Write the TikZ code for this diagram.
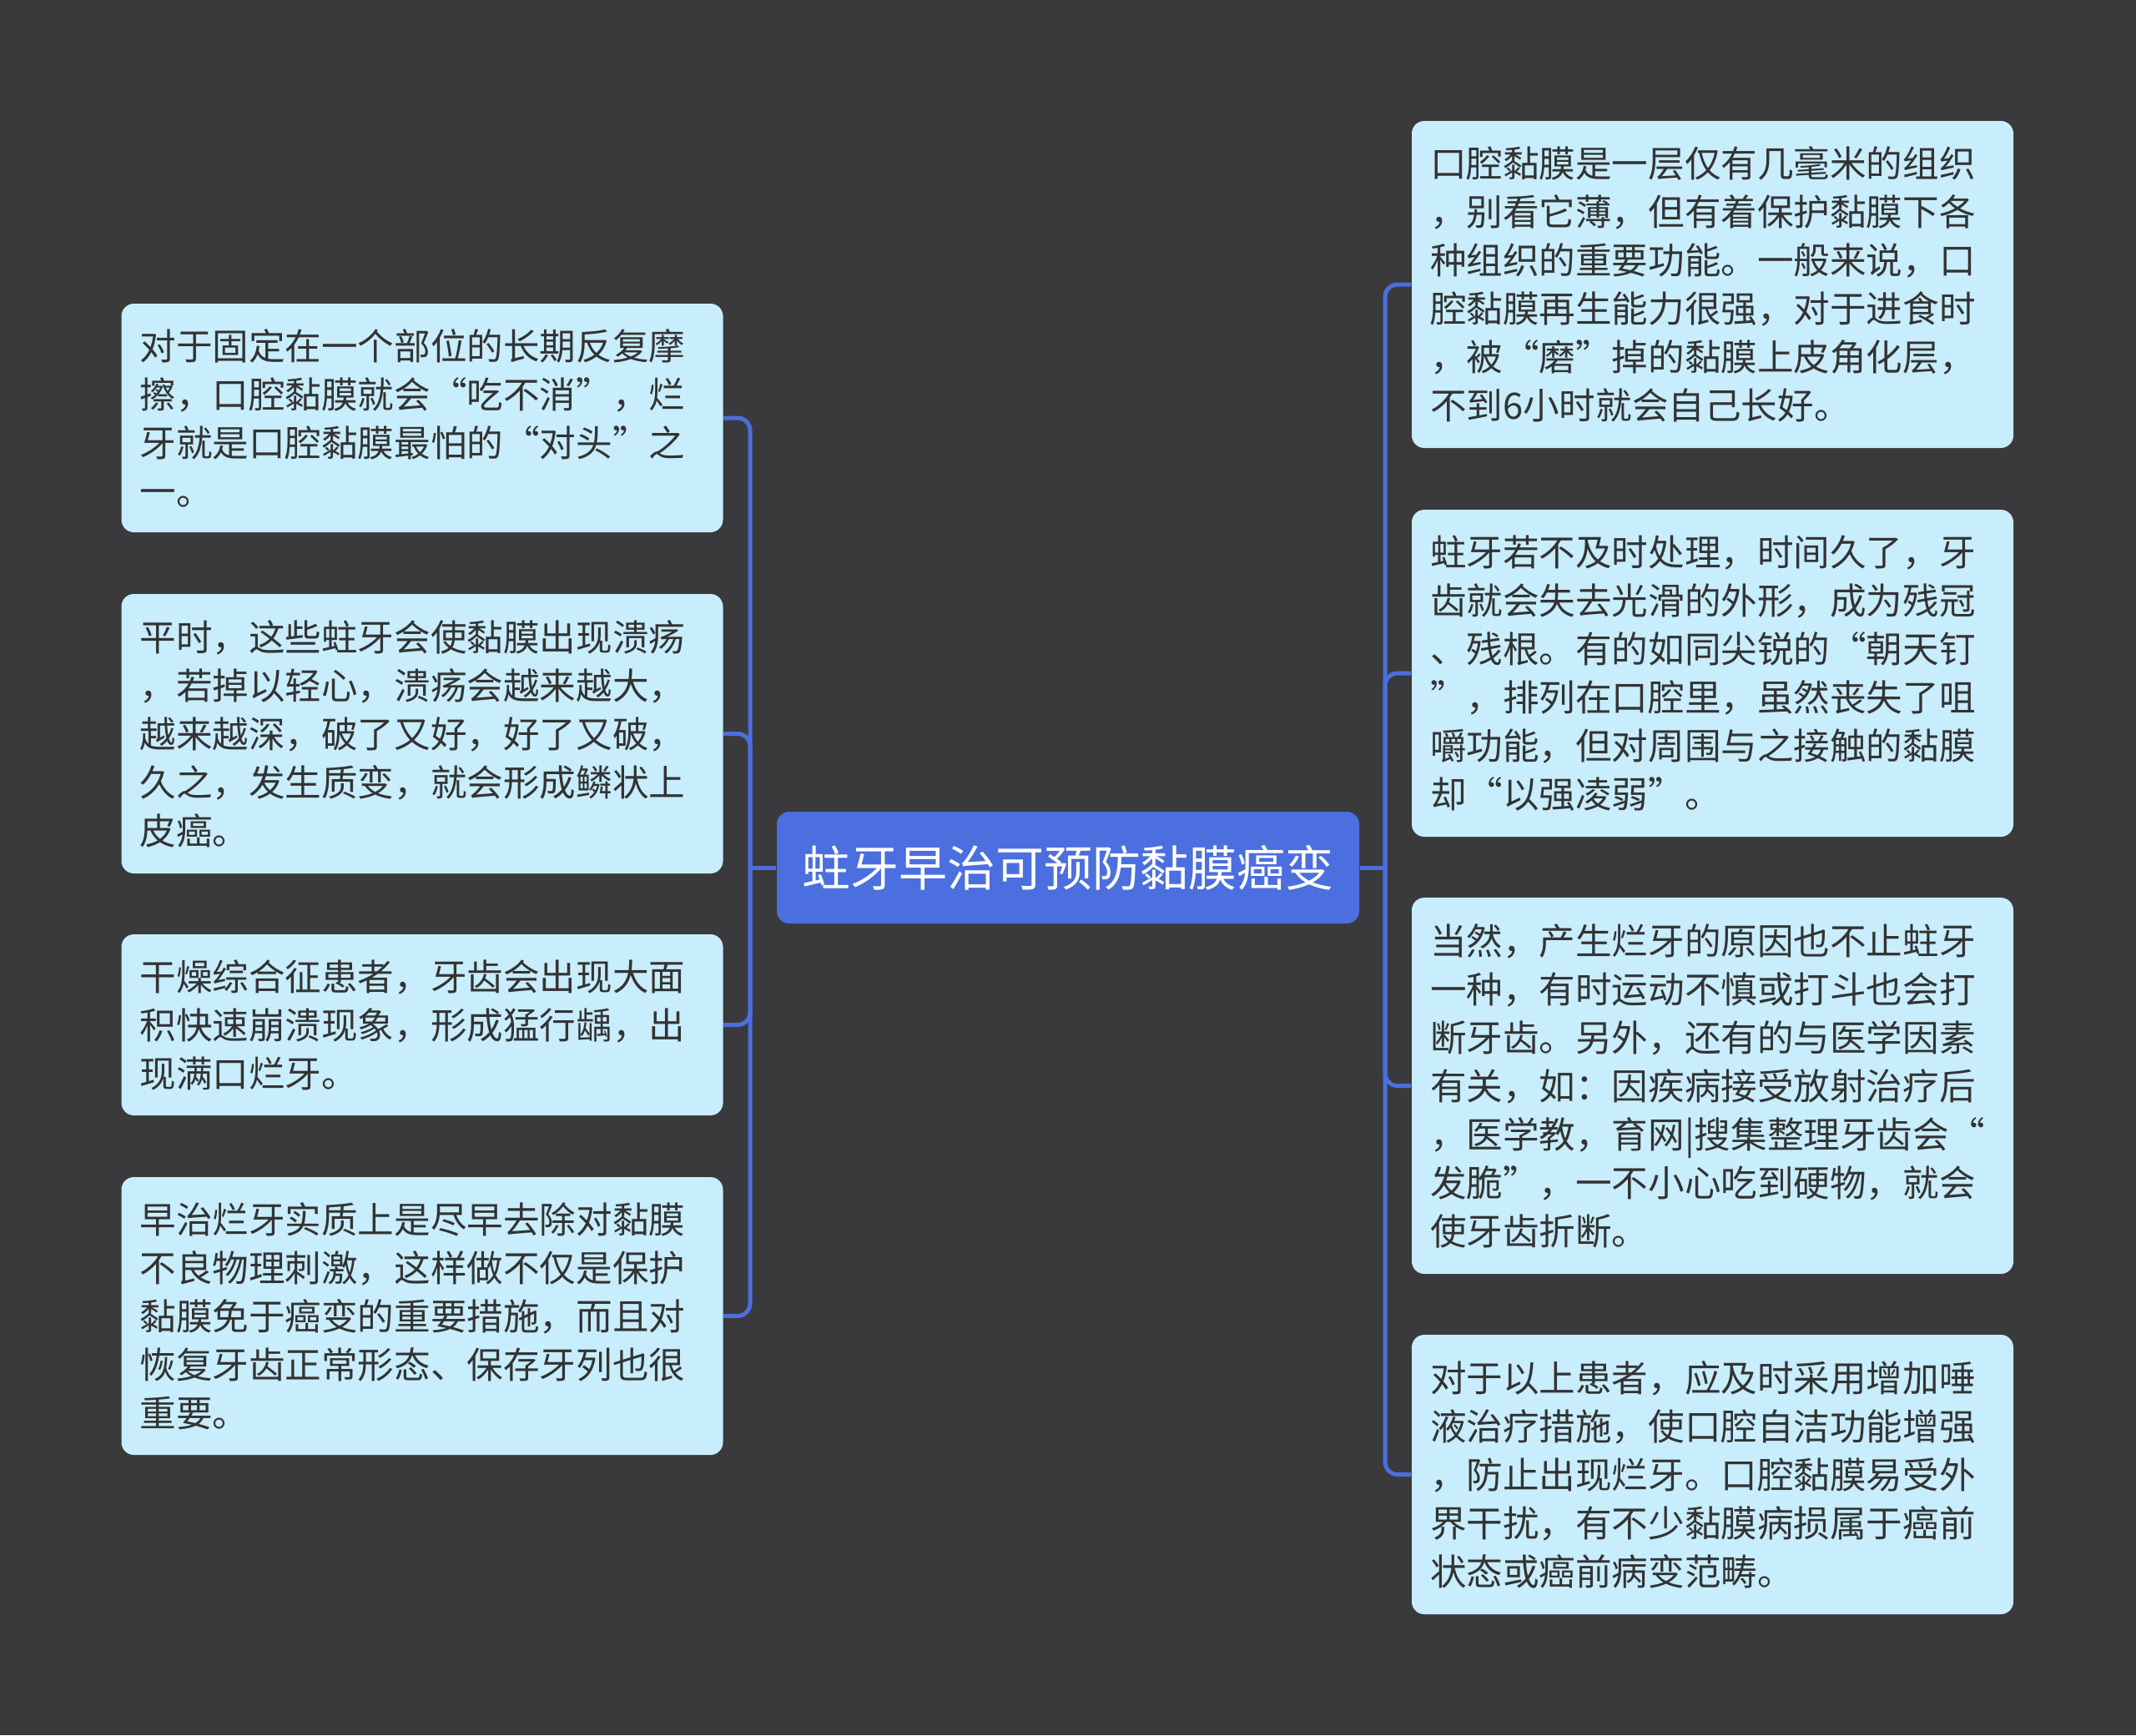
\documentclass[tikz,border=0pt]{standalone}
\usepackage{fontspec}
\setmainfont{Noto Sans CJK SC}
\usepackage{tikz}

\definecolor{bgcol}{RGB}{58,58,60}
\definecolor{boxcol}{RGB}{200,237,252}
\definecolor{maincol}{RGB}{76,111,223}
\definecolor{txtcol}{RGB}{51,51,51}

\begin{document}
\begin{tikzpicture}[
    leaf/.style={fill=boxcol, rounded corners=0.15cm, text=txtcol, align=left,
        text width=6.77cm, inner xsep=0.22cm, inner ysep=0pt,
        font=\fontsize{12.4pt}{16.5pt}\selectfont},
    root/.style={fill=maincol, rounded corners=0.15cm, text=white,
        minimum width=6.98cm, minimum height=1.34cm,
        font=\fontsize{16.5pt}{20pt}\selectfont},
    link/.style={draw=maincol, line width=0.05cm}]
            \fill[bgcol] (0,0) rectangle (25.6,-20.8);
            \useasboundingbox (0,0) rectangle (25.6,-20.8);

            % Center node
            \node[root] (C) at (12.80,-10.40) {蛀牙早治可预防黏膜癌变};

            % Left nodes
            \node[leaf, minimum height=2.74cm] (L1) at (5.06,-5.01) {对于固定在一个部位的长期反复摩\\擦，口腔黏膜就会“吃不消”，烂\\牙就是口腔黏膜最怕的“对头”之\\一。};
            \node[leaf, minimum height=3.35cm] (L2) at (5.06,-8.795) {平时，这些蛀牙会使黏膜出现溃疡\\，若掉以轻心，溃疡会越来越大，\\越来越深，破了又好，好了又破，\\久之，发生质变，就会形成鳞状上\\皮癌。};
            \node[leaf, minimum height=2.17cm] (L3) at (5.06,-12.285) {干燥综合征患者，牙齿会出现大面\\积快速崩溃现象，形成猛行龋，出\\现满口烂牙。};
            \node[leaf, minimum height=3.33cm] (L4) at (5.06,-15.775) {早治烂牙实质上是尽早去除对黏膜\\不良物理刺激，这样做不仅是保护\\黏膜免于癌变的重要措施，而且对\\恢复牙齿正常形态、保存牙列也很\\重要。};

            % Right nodes
            \node[leaf, minimum height=3.92cm] (R1) at (20.525,-3.41) {口腔黏膜是一层仅有几毫米的组织\\，别看它薄，但有着保护黏膜下各\\种组织的重要功能。一般来说，口\\腔黏膜再生能力很强，对于进食时\\，被“磨”掉的黏膜上皮角化层，\\不到6小时就会自己长好。};
            \node[leaf, minimum height=3.92cm] (R2) at (20.525,-8.07) {蛀牙若不及时处理，时间久了，牙\\齿就会失去光滑的外形，成为残冠\\、残根。有的如同尖锐的“朝天钉\\”，排列在口腔里，虽然丧失了咀\\嚼功能，但对周围与之接触的黏膜\\却“以强凌弱”。};
            \node[leaf, minimum height=4.51cm] (R3) at (20.525,-13.015) {当然，产生烂牙的原因也不止蛀牙\\一种，有时运动不慎或打斗也会打\\断牙齿。另外，还有的与医学因素\\有关，如：因疾病接受放射治疗后\\，医学教，育网|搜集整理牙齿会“\\发脆”，一不小心吃到硬物，就会\\使牙齿折断。};
            \node[leaf, minimum height=3.35cm] (R4) at (20.525,-17.675) {对于以上患者，应及时采用增加唾\\液治疗措施，使口腔自洁功能增强\\，防止出现烂牙。口腔黏膜易受外\\界干扰，有不少黏膜病损属于癌前\\状态或癌前病变范畴。};

            % Connectors
            \coordinate (jl) at (8.99,-10.40);
            \coordinate (jr) at (16.60,-10.40);
            \draw[link] (C.west) -- (jl);
            \draw[link] (C.east) -- (jr);
            \foreach \n in {L1,L2,L3,L4} {
                \draw[link, rounded corners=0.15cm] (jl) |- (\n.east);
            }
            \foreach \n in {R1,R2,R3,R4} {
                \draw[link, rounded corners=0.15cm] (jr) |- (\n.west);
            }
            \end{tikzpicture}
\end{document}
